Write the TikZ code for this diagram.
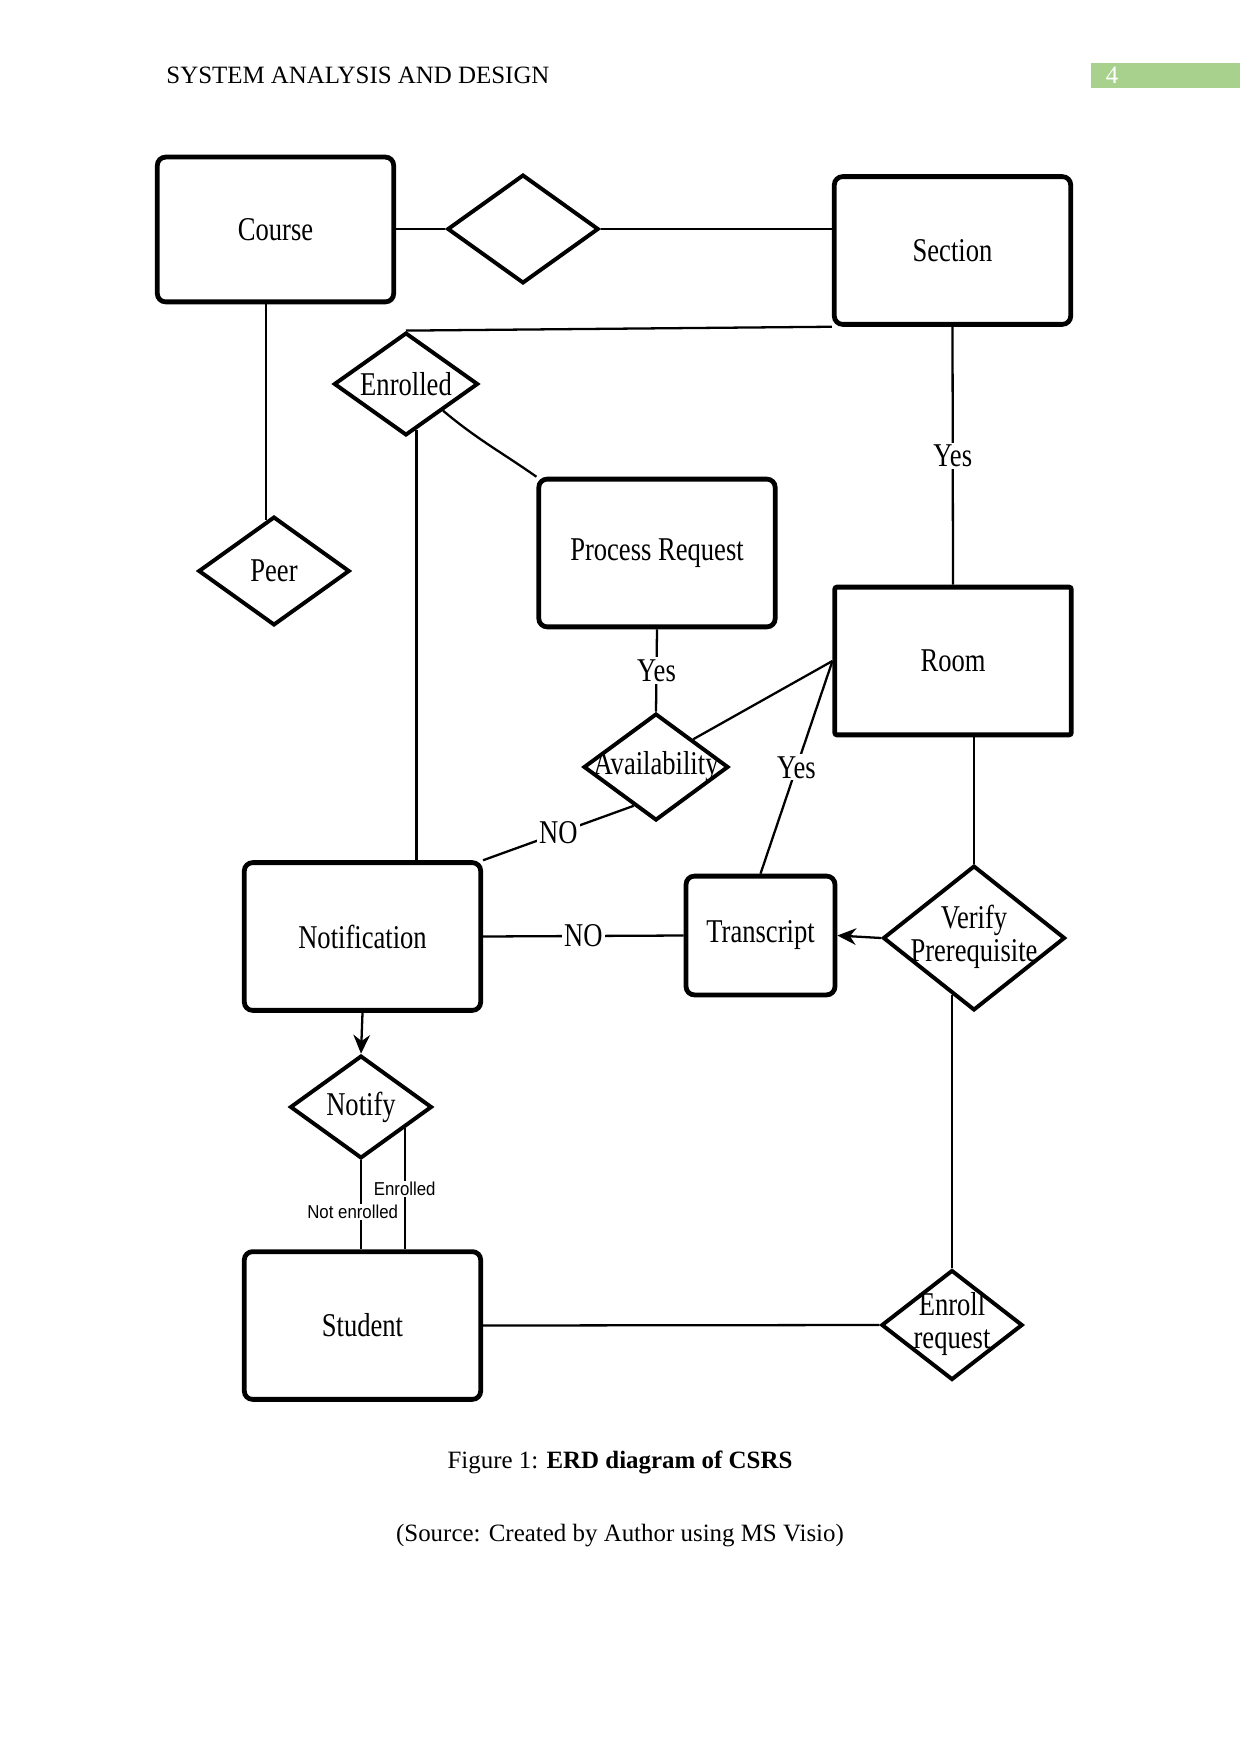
\documentclass[tikz,border=0pt]{standalone}
\usepackage{fontspec}
\setmainfont{Liberation Serif}
\newfontfamily\sketchfont{Liberation Serif}[FakeStretch=0.8]
\newfontfamily\notefont{Liberation Sans}[FakeStretch=0.9]
\usetikzlibrary{arrows.meta,shapes.geometric,positioning,calc}
\definecolor{pagegreen}{RGB}{169,209,142}
\newcommand{\ctxt}[1]{\makebox[0pt]{#1}}
\newcommand{\dtxt}[1]{\makebox[0pt]{\begin{tabular}{@{}c@{}}#1\end{tabular}}}

\begin{document}
\begin{tikzpicture}[
    x=0.016922cm, y=-0.016922cm,
    ent/.style={draw, line width=2.3pt, rounded corners=4pt, minimum width=4.0cm, minimum height=2.5cm, font=\sketchfont\fontsize{16}{16}\selectfont},
    rel/.style={diamond, draw, line width=1.9pt, inner sep=0pt, font=\sketchfont\fontsize{16}{16}\selectfont},
    con/.style={line width=1.1pt},
    arr/.style={con, -{Stealth[length=9pt, width=8pt]}},
    lbl/.style={font=\sketchfont\fontsize{16}{16}\selectfont, fill=white, inner sep=1pt},
    note/.style={font=\notefont\fontsize{9}{9}\selectfont, fill=white, inner sep=0.5pt},
    page/.style={font=\fontsize{12}{14}\selectfont}
]
\fill[white] (0,0) rectangle (1241,1754);
\useasboundingbox (0,0) rectangle (1241,1754);

% header
\node[page, inner sep=0pt, anchor=base west] (head) at (166,84) {SYSTEM ANALYSIS AND DESIGN};
\node[fill=pagegreen, minimum width=2.52cm, minimum height=0.42cm, inner sep=0pt, anchor=north west] (pgbox) at (1091,63) {};
\node[page, text=white, anchor=base] (pgnum) at (1112,84) {4};

% entities and relations
\node[ent, minimum height=2.45cm] (course) at (275.5,229.5) {Course};
\node[rel, minimum width=2.56cm, minimum height=1.84cm] (link) at (523,229) {};
\node[ent] (sect) at (952.5,250.5) {Section};
\node[rel, minimum width=2.44cm, minimum height=1.74cm] (enr) at (406,384) {\ctxt{Enrolled}};
\node[rel, minimum width=2.56cm, minimum height=1.84cm] (peer) at (274,571) {\ctxt{Peer}};
\node[ent] (proc) at (657,553) {Process Request};
\node[ent, rounded corners=1pt] (room) at (953,661) {Room};
\node[rel, minimum width=2.45cm, minimum height=1.81cm] (avail) at (656,767) {\ctxt{Availability}};
\node[ent] (notif) at (362.5,936.5) {Notification};
\node[ent, minimum width=2.52cm, minimum height=2.01cm] (trans) at (760.5,935.5) {Transcript};
\node[rel, minimum width=3.08cm, minimum height=2.45cm] (verify) at (974,938) {\dtxt{Verify\\Prerequisite}};
\node[rel, minimum width=2.40cm, minimum height=1.74cm] (notify) at (361,1107) {\ctxt{Notify}};
\node[ent] (stud) at (362.5,1325.5) {Student};
\node[rel, minimum width=2.39cm, minimum height=1.86cm] (enrq) at (952,1325) {\dtxt{Enroll\\request}};

% foot points on the diamond edges
\coordinate (peertop) at ($(peer.north)!0.1!(peer.west)$);
\coordinate (enrfoot) at ($(enr.south)!0.14!(enr.east)$);
\coordinate (availfoot) at ($(avail.south)!0.3!(avail.west)$);
\coordinate (verfoot) at ($(verify.south)!0.24!(verify.west)$);
\coordinate (notefoot) at ($(notify.south east)!0.2!(notify.east)$);

% connectors
\draw[con] (course.east |- link.west) -- (link.west);
\draw[con] (link.east) -- (link.east -| sect.west);
\draw[con] (sect.south west) -- (enr.north);
\draw[con] (peertop |- course.south) -- (peertop);
\draw[con] (enrfoot) -- (enrfoot |- notif.north);
\draw[con] (enr.south east) to[out=-40, in=145] (proc.north west);
\draw[con] (sect.south) -- node[lbl] {Yes} (room.north);
\draw[con] (proc.south) -- node[lbl] {Yes} (avail.north);
\draw[con] (avail.north east) -- (room.west);
\draw[con] (availfoot) -- node[lbl] {NO} (notif.north east);
\draw[con] (room.west) -- node[lbl] {Yes} (trans.north);
\draw[con] (notif.east) -- node[lbl] {NO} (trans.west);
\draw[arr] (verify.west) -- (trans.east);
\draw[con] (verify.north) -- (verify.north |- room.south);
\draw[arr] (notif.south) -- (notify.north);
\draw[con] (notify.south) -- node[note, pos=0.58, xshift=-4pt] {Not enrolled} (notify.south |- stud.north);
\draw[con] (notefoot) -- node[note] {Enrolled} (notefoot |- stud.north);
\draw[con] (verfoot) -- (verfoot |- enrq.north);
\draw[con] (stud.east) -- (enrq.west);

% caption
\node[page] (cap) at (620,1462) {Figure 1: \textbf{ERD diagram of CSRS}};
\node[page] (src) at (620,1536) {(Source: Created by Author using MS Visio)};
\end{tikzpicture}
\end{document}
